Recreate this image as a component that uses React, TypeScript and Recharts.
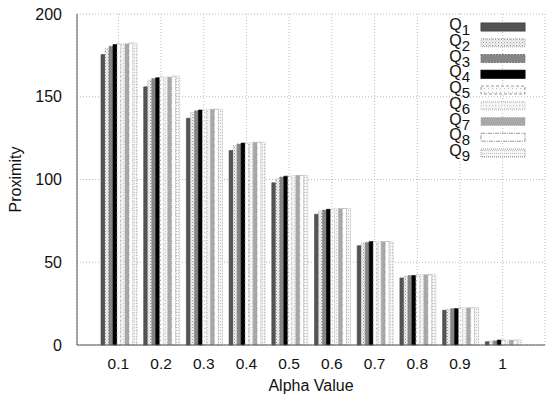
import React from "react";
import { BarChart, Bar, XAxis, YAxis, CartesianGrid } from "recharts";

const alphas = ["0.1", "0.2", "0.3", "0.4", "0.5", "0.6", "0.7", "0.8", "0.9", "1"];
const Q1 = [175.5, 156, 137, 117.5, 98, 79, 60, 40.5, 21, 2];
const Q2 = [179, 160, 140.5, 120.5, 100.5, 81, 61.5, 41.5, 21.5, 2.5];
const Q3 = [180.5, 161, 141.5, 121.5, 101.5, 81.5, 62, 42, 22, 2.5];
const Q4 = [181.5, 161.5, 142, 122, 102, 82, 62.5, 42, 22, 3];
const Q5 = [182, 162, 142, 122, 102, 82, 62.5, 42.5, 22.5, 3];
const Q6 = [182, 162, 142.5, 122.5, 102.5, 82.5, 62.5, 42.5, 22.5, 3];
const Q7 = [182, 162, 142.5, 122.5, 102.5, 82.5, 62.5, 42.5, 22.5, 3];
const Q8 = [182.5, 162.5, 142.5, 122.5, 102.5, 82.5, 62.5, 42.5, 22.5, 3];
const Q9 = [182.5, 162.5, 142.5, 122.5, 102.5, 82.5, 62.5, 42.5, 22.5, 3];
const seriesNames = ["Q1", "Q2", "Q3", "Q4", "Q5", "Q6", "Q7", "Q8", "Q9"];
const seriesValues = [Q1, Q2, Q3, Q4, Q5, Q6, Q7, Q8, Q9];
const yTicks = [0, 50, 100, 150, 200];

const data = alphas.map((a, i) => {
  const row: Record<string, any> = { alpha: a };
  seriesNames.forEach((n, k) => {
    row[n] = seriesValues[k][i];
  });
  return row;
});

const styles = [
  { fill: "#545454", stroke: "#444", dash: undefined },
  { fill: "url(#pCheck)", stroke: "#aaa", dash: "1 1" },
  { fill: "#868686", stroke: "#777", dash: "2 1" },
  { fill: "#000000", stroke: "#000", dash: undefined },
  { fill: "url(#pDots)", stroke: "#999", dash: "3 2" },
  { fill: "url(#pLight)", stroke: "#bbb", dash: "1 1" },
  { fill: "#a8a8a8", stroke: "#aaa", dash: "1 1" },
  { fill: "#ffffff", stroke: "#999", dash: "4 1 1 1" },
  { fill: "url(#pFine)", stroke: "#999", dash: "1 1" },
];

const FONT = "'Liberation Sans', Arial, sans-serif";

const LegendBox = () => (
  <g>
    {seriesNames.map((n, k) => {
      const cy = 27 + k * 15.75;
      const s = styles[k];
      return (
        <g key={n}>
          <text
            x={470}
            y={cy + 3}
            textAnchor="end"
            fontFamily={FONT}
            fontSize={16}
            fill="#111"
          >
            Q
            <tspan fontSize={15} dy={5}>
              {k + 1}
            </tspan>
          </text>
          <rect
            x={481}
            y={cy - 4}
            width={44}
            height={8}
            fill={s.fill}
            stroke={s.stroke}
            strokeDasharray={s.dash}
            strokeWidth={1}
          />
        </g>
      );
    })}
  </g>
);

export default function App() {
  return (
    <div style={{ position: "absolute", left: 0, top: 0, width: 550, height: 399, background: "#fff" }}>
      <BarChart
        width={550}
        height={399}
        data={data}
        margin={{ top: 14, right: 5, bottom: 0, left: 0 }}
        barCategoryGap={4}
        barGap={0}
      >
        <defs>
          <pattern id="pCheck" width="3" height="3" patternUnits="userSpaceOnUse">
            <rect width="3" height="3" fill="#f2f2f2" />
            <rect width="1" height="1" fill="#999" />
            <rect x="1.5" y="1.5" width="1" height="1" fill="#bbb" />
          </pattern>
          <pattern id="pDots" width="4" height="4" patternUnits="userSpaceOnUse">
            <rect width="4" height="4" fill="#fafafa" />
            <rect width="1" height="1" fill="#bbb" />
          </pattern>
          <pattern id="pLight" width="3" height="3" patternUnits="userSpaceOnUse">
            <rect width="3" height="3" fill="#f4f4f4" />
            <rect width="1" height="1" fill="#c8c8c8" />
          </pattern>
          <pattern id="pFine" width="2" height="3" patternUnits="userSpaceOnUse">
            <rect width="2" height="3" fill="#f6f6f6" />
            <rect width="1" height="1" fill="#c0c0c0" />
          </pattern>
        </defs>
        <CartesianGrid stroke="#bbb" strokeDasharray="1 2" />
        <XAxis
          dataKey="alpha"
          height={54}
          padding={{ left: 20, right: 21 }}
          axisLine={{ stroke: "#555" }}
          tickLine={false}
          tickMargin={7}
          tick={{ fontFamily: FONT, fontSize: 15.5, fill: "#111" }}
          label={{ value: "Alpha Value", position: "insideBottom", offset: 8, fontFamily: FONT, fontSize: 16, fill: "#111" }}
        />
        <XAxis xAxisId="top" dataKey="alpha" orientation="top" height={0} tick={false} tickLine={false} axisLine={{ stroke: "#555" }} />
        <YAxis
          width={77}
          domain={[0, 200]}
          ticks={yTicks}
          axisLine={{ stroke: "#555" }}
          tickLine={false}
          tickMargin={9}
          tick={{ fontFamily: FONT, fontSize: 16, fill: "#111" }}
          label={{ value: "Proximity", angle: -90, position: "insideLeft", offset: 15, fontFamily: FONT, fontSize: 16, fill: "#111", style: { textAnchor: "middle" } }}
        />
        <YAxis yAxisId="right" orientation="right" width={0} tick={false} tickLine={false} axisLine={{ stroke: "#555" }} domain={[0, 200]} />
        {seriesNames.map((n, k) => (
          <Bar
            key={n}
            dataKey={n}
            fill={styles[k].fill}
            stroke={styles[k].stroke}
            strokeDasharray={styles[k].dash}
            strokeWidth={0.6}
            isAnimationActive={false}
          />
        ))}
        <LegendBox />
      </BarChart>
    </div>
  );
}
